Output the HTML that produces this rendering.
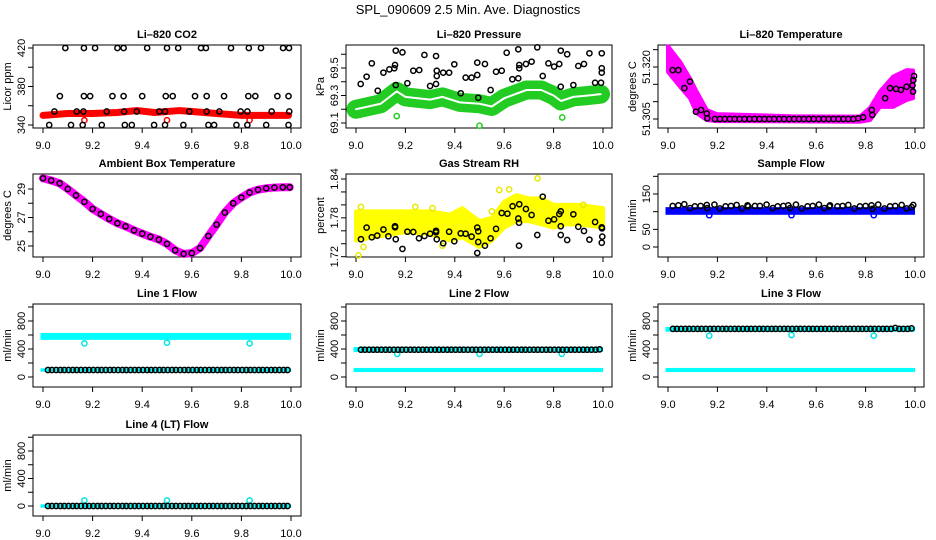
<!DOCTYPE html>
<html><head><meta charset="utf-8"><title>SPL_090609 Diagnostics</title>
<style>
html,body{margin:0;padding:0;background:#fff;}
svg{display:block;font-family:"Liberation Sans",Arial,sans-serif;}
</style></head>
<body>
<svg id="fig" width="936" height="540" viewBox="0 0 936 540" xmlns="http://www.w3.org/2000/svg">
<rect x="0" y="0" width="936" height="540" fill="#fff"/>
<text x="468" y="14" text-anchor="middle" font-size="13">SPL_090609  2.5 Min. Ave. Diagnostics</text>
</svg>
<script>
// ---------- data ----------
const xTicks = [9.0, 9.2, 9.4, 9.6, 9.8, 10.0];
const xTickLabels = ["9.0", "9.2", "9.4", "9.6", "9.8", "10.0"];
const tGrid = [9.02,9.036,9.053,9.07,9.086,9.103,9.12,9.136,9.153,9.17,9.186,9.203,9.22,9.236,9.253,9.27,9.286,9.303,9.32,9.336,9.353,9.37,9.386,9.403,9.42,9.436,9.453,9.47,9.486,9.503,9.52,9.536,9.553,9.57,9.586,9.603,9.62,9.636,9.653,9.67,9.686,9.703,9.72,9.736,9.753,9.77,9.786,9.803,9.82,9.836,9.853,9.87,9.886,9.903,9.92,9.936,9.953,9.97,9.986];
const outlierX = [9.167, 9.5, 9.833];

// CO2
const co2Ticks = [340, 360, 380, 400, 420];
const co2TickLabels = ["340", "", "380", "", "420"];
const co2RedX = [9.0,9.1,9.2,9.3,9.38,9.45,9.55,9.6,9.7,9.8,9.9,9.99];
const co2RedY = [350,352,352,353,355,353,355,354,352,350,350,350];
const co2RedOutY = [345, 345, 345];
const co2BlackX = [9.09,9.165,9.21,9.30,9.325,9.42,9.50,9.545,9.637,9.657,9.758,9.83,9.879,9.968,9.992,
  9.068,9.165,9.19,9.28,9.325,9.40,9.495,9.523,9.613,9.66,9.73,9.828,9.856,9.945,9.99,
  9.046,9.136,9.163,9.257,9.327,9.378,9.469,9.492,9.59,9.66,9.711,9.797,9.824,9.922,9.993,
  9.025,9.113,9.16,9.237,9.33,9.358,9.448,9.492,9.566,9.667,9.69,9.78,9.824,9.90,9.99];
const co2BlackY = [420,420,420,420,420,420,420,420,420,420,420,420,420,420,420,
  370,370,370,370,370,370,370,370,370,370,370,370,370,370,370,
  354,354,354,354,354,354,354,354,354,354,354,354,354,354,354,
  340,340,340,340,340,340,340,340,340,340,340,340,340,340,340];

// Pressure
const presTicks = [69.1, 69.2, 69.3, 69.4, 69.5, 69.6];
const presTickLabels = ["69.1", "", "69.3", "", "69.5", ""];
const presGreenX = [9.0,9.05,9.1,9.165,9.2,9.3,9.35,9.42,9.5,9.55,9.6,9.69,9.75,9.8,9.83,9.88,9.94,9.99];
const presGreenY = [69.2,69.22,69.24,69.33,69.29,69.27,69.29,69.25,69.24,69.22,69.28,69.34,69.34,69.3,69.26,69.29,69.3,69.31];
const presGreenOutX = [9.165, 9.5, 9.835];
const presGreenOutY = [69.15, 69.08, 69.14];
const presBlackX = [9.019,9.043,9.064,9.088,9.111,9.135,9.155,9.158,9.161,9.161,9.188,9.208,9.232,9.256,9.277,9.30,9.324,9.324,9.327,9.327,9.353,9.377,9.398,9.424,9.444,9.468,9.491,9.491,9.495,9.522,9.545,9.567,9.59,9.61,9.633,9.657,9.657,9.661,9.661,9.688,9.711,9.734,9.756,9.779,9.802,9.823,9.829,9.829,9.855,9.88,9.90,9.923,9.945,9.968,9.992,9.995,9.995,9.995];
const presBlackY = [69.384,69.437,69.534,69.335,69.466,69.49,69.498,69.522,69.376,69.626,69.614,69.389,69.48,69.485,69.595,69.369,69.384,69.587,69.48,69.442,69.466,69.466,69.527,69.316,69.43,69.43,69.449,69.539,69.284,69.529,69.34,69.473,69.48,69.611,69.418,69.636,69.425,69.498,69.522,69.529,69.546,69.65,69.442,69.534,69.51,69.529,69.626,69.364,69.60,69.376,69.515,69.529,69.607,69.393,69.393,69.607,69.498,69.466];

// Li-820 temperature
const tempTicks = [51.305, 51.310, 51.315, 51.320, 51.325];
const tempTickLabels = ["51.305", "", "", "51.320", ""];
const tempBandX = [9.0,9.049,9.089,9.116,9.157,9.197,9.5,9.777,9.818,9.858,9.911,9.966,9.992];
const tempBandUpper = [51.326,51.3215,51.3167,51.3129,51.3076,51.3064,51.3058,51.3057,51.3082,51.3129,51.3172,51.3191,51.319];
const tempBandLower = [51.3186,51.3143,51.311,51.3067,51.3047,51.3044,51.3043,51.3042,51.3047,51.3085,51.3085,51.3105,51.311];
const tempBlackX = [9.019,9.042,9.066,9.089,9.113,9.134,9.157,9.159,9.19,9.21,9.23,9.25,9.27,9.29,9.31,9.33,9.35,9.37,9.39,9.41,9.43,9.45,9.47,9.49,9.51,9.53,9.55,9.57,9.59,9.61,9.63,9.65,9.67,9.69,9.71,9.73,9.75,9.77,9.79,9.825,9.827,9.879,9.899,9.923,9.943,9.966,9.993,9.996,9.992,9.99];
const tempBlackY = [51.3191,51.3191,51.3139,51.3158,51.3071,51.3076,51.3066,51.3052,51.305,51.305,51.305,51.305,51.305,51.305,51.305,51.305,51.305,51.305,51.305,51.305,51.305,51.305,51.305,51.305,51.305,51.305,51.305,51.305,51.305,51.305,51.305,51.305,51.305,51.305,51.305,51.305,51.305,51.3052,51.3055,51.3076,51.3062,51.311,51.3139,51.3137,51.3134,51.3143,51.3162,51.3174,51.3129,51.3147];

// Ambient box temperature
const ambTicks = [25, 26, 27, 28, 29];
const ambTickLabels = ["25", "", "27", "", "29"];
const ambX = [9.0,9.033,9.067,9.1,9.133,9.167,9.2,9.233,9.267,9.3,9.333,9.367,9.4,9.433,9.467,9.5,9.533,9.567,9.6,9.633,9.667,9.7,9.733,9.767,9.8,9.833,9.867,9.9,9.933,9.967,9.995];
const ambY = [29.75,29.6,29.4,29.0,28.55,28.1,27.6,27.25,26.9,26.6,26.38,26.1,25.87,25.65,25.45,25.15,24.7,24.45,24.5,24.85,25.7,26.5,27.35,28.0,28.4,28.75,28.95,29.05,29.1,29.12,29.12];

// Gas stream RH
const rhTicks = [1.72, 1.74, 1.76, 1.78, 1.80, 1.82, 1.84];
const rhTickLabels = ["1.72", "", "", "1.78", "", "", "1.84"];
const rhBandX = [9.0,9.1,9.2,9.3,9.38,9.43,9.5,9.55,9.6,9.65,9.7,9.75,9.8,9.85,9.9,10.0];
const rhBandUpper = [1.79,1.79,1.79,1.79,1.785,1.795,1.775,1.78,1.805,1.815,1.81,1.81,1.80,1.80,1.80,1.795];
const rhBandLower = [1.745,1.752,1.758,1.755,1.745,1.75,1.735,1.745,1.765,1.775,1.775,1.77,1.765,1.77,1.77,1.765];
const rhYellowOutX = [9.01,9.02,9.24,9.31,9.58,9.62,9.735,9.35,9.92,9.03,9.55];
const rhYellowOutY = [1.722,1.797,1.797,1.795,1.823,1.824,1.841,1.737,1.80,1.735,1.79];
const rhBlackX = [9.020,9.043,9.064,9.086,9.111,9.131,9.158,9.161,9.158,9.188,9.208,9.232,9.255,9.277,9.30,9.324,9.327,9.324,9.353,9.377,9.398,9.424,9.444,9.468,9.491,9.491,9.495,9.495,9.522,9.545,9.567,9.59,9.613,9.634,9.657,9.66,9.661,9.66,9.688,9.711,9.734,9.756,9.779,9.802,9.823,9.829,9.829,9.829,9.855,9.88,9.90,9.923,9.945,9.968,9.995,9.997,9.995,9.996];
const rhBlackY = [1.747,1.765,1.750,1.7525,1.762,1.7515,1.767,1.747,1.7654,1.732,1.7586,1.7581,1.7484,1.752,1.7555,1.760,1.747,1.7577,1.7407,1.7586,1.7438,1.756,1.7555,1.751,1.765,1.7257,1.7592,1.7427,1.737,1.7484,1.763,1.7875,1.7864,1.798,1.779,1.737,1.801,1.7725,1.7937,1.7844,1.7535,1.8127,1.7756,1.7777,1.786,1.767,1.790,1.7535,1.7458,1.7855,1.7663,1.7597,1.7463,1.7736,1.7654,1.751,1.7416,1.7638];

// Sample flow
const sfTicks = [0, 50, 100, 150, 200];
const sfTickLabels = ["0", "50", "", "150", ""];
const sfBlueBand = [94, 110];
const sfBlueOutY = [90, 90, 90];
const sfBlackX = [9.019,9.042,9.066,9.089,9.109,9.132,9.157,9.159,9.188,9.21,9.233,9.255,9.278,9.3,9.322,9.325,9.352,9.372,9.399,9.424,9.444,9.467,9.487,9.494,9.518,9.541,9.565,9.586,9.611,9.633,9.653,9.656,9.686,9.707,9.73,9.754,9.777,9.8,9.824,9.828,9.851,9.876,9.899,9.92,9.946,9.966,9.986,9.993];
const sfBlackY = [116,118,121,110,115,116,119,110,120,109,115,116,119,109,118,115,116,116,120,110,115,116,118,110,120,109,115,116,120,110,115,118,115,116,119,109,115,116,118,108,120,109,115,116,119,109,113,119];

// Line flows (mL/min)
const flowTicks = [0, 200, 400, 600, 800, 1000];
const flowTickLabels = ["0", "", "400", "", "800", ""];
const line1CyanBand = [545, 615];
const line1CyanLow = [90, 110];
const line1OutY = [480, 490, 480];
const line1Black = [100,100,100,100,100,100,100,100,100,100,100,100,100,100,100,100,100,100,100,100,100,100,100,100,100,100,100,100,100,100,100,100,100,100,100,100,100,100,100,100,100,100,100,100,100,100,100,100,100,100,100,100,100,100,100,100,100,100,100];
const line2CyanBand = [370, 415];
const line2CyanLow = [85, 115];
const line2OutY = [330, 330, 330];
const line2Black = [390,390,390,390,390,390,390,390,390,390,390,390,390,390,390,390,390,390,390,390,390,390,390,390,390,390,390,390,390,390,390,390,390,390,390,390,390,390,390,390,390,390,390,390,390,390,390,390,390,390,390,390,390,390,390,390,390,390,395];
const line3CyanBand = [660, 700];
const line3CyanLow = [85, 115];
const line3OutY = [590, 600, 590];
const line3Black = [688,688,688,688,688,688,688,688,688,688,688,688,688,688,688,688,688,688,688,688,688,688,688,688,688,688,688,688,688,688,688,688,688,688,688,688,688,688,688,688,688,688,688,688,688,688,688,688,688,688,688,688,688,688,700,688,688,688,695];
const line4CyanBand = [-10, 10];
const line4OutY = [80, 80, 80];
const line4Black = [0,0,0,0,0,0,0,0,0,0,0,0,0,0,0,0,0,0,0,0,0,0,0,0,0,0,0,0,0,0,0,0,0,0,0,0,0,0,0,0,0,0,0,0,0,0,0,0,0,0,0,0,0,0,0,0,0,0,0];

// ---------- drawing ----------
const NS = "http://www.w3.org/2000/svg";
const svg = document.getElementById("fig");
const COLS = [[33,301,43,291],[346,612,356,603],[658,924,668,915]];
const ROWS = [[45,128],[174,257],[304,387],[435,516]];

function mk(parent, tag, attrs, name) {
  const el = document.createElementNS(NS, tag);
  for (const k in attrs) el.setAttribute(k, attrs[k]);
  
  
  parent.appendChild(el);
  return el;
}

function panel(col, row, id, title, ylab, v1, p1, v2, p2, ticks, labels) {
  const [bl, br, x9, x10] = COLS[col];
  const [bt, bb] = ROWS[row];
  const g = mk(svg, "g", {}, id + "-panel");
  const sx = x => x9 + (x - 9) * (x10 - x9);
  const sy = v => p1 + (v - v1) * (p2 - p1) / (v2 - v1);
  const t = mk(g, "text", {x: (bl + br) / 2, y: bt - 7, "text-anchor": "middle", "font-size": 11, "font-weight": "bold"}, id + "-title");
  t.textContent = title;
  mk(g, "rect", {x: bl, y: bt, width: br - bl, height: bb - bt, fill: "none", stroke: "#000", "stroke-width": 1}, id + "-plot-box");
  xTicks.forEach((xv, i) => {
    const px = sx(xv);
    mk(g, "line", {x1: px, y1: bb, x2: px, y2: bb + 5, stroke: "#000"}, id + "-x-tick");
    const tl = mk(g, "text", {x: px, y: bb + 21, "text-anchor": "middle", "font-size": 11}, id + "-x-tick-label");
    tl.textContent = xTickLabels[i];
  });
  ticks.forEach((v, i) => {
    const py = sy(v);
    mk(g, "line", {x1: bl - 5, y1: py, x2: bl, y2: py, stroke: "#000"}, id + "-y-tick");
    if (labels[i]) {
      const tl = mk(g, "text", {x: 0, y: 0, "text-anchor": "middle", "font-size": 11, transform: `translate(${bl - 8},${py}) rotate(-90)`}, id + "-y-tick-label");
      tl.textContent = labels[i];
    }
  });
  const yl = mk(g, "text", {x: 0, y: 0, "text-anchor": "middle", "font-size": 11, transform: `translate(${bl - 22},${(bt + bb) / 2}) rotate(-90)`}, id + "-y-axis-title");
  yl.textContent = ylab;
  const marks = mk(g, "g", {}, id + "-marks");
  return {g: marks, sx, sy, bl, br};
}

function pts(P, xs, ys, color, name) {
  xs.forEach((x, i) => {
    mk(P.g, "circle", {cx: P.sx(x), cy: P.sy(ys[i]), r: 2.6, fill: "none", stroke: color, "stroke-width": 1.5}, name);
  });
}
function band(P, xs, ys, color, w, name) {
  mk(P.g, "polyline", {points: xs.map((x, i) => P.sx(x) + "," + P.sy(ys[i])).join(" "), fill: "none", stroke: color, "stroke-width": w, "stroke-linejoin": "round", "stroke-linecap": "round"}, name);
}
function area(P, xs, up, lo, color, name) {
  const a = xs.map((x, i) => P.sx(x) + "," + P.sy(up[i]));
  const b = xs.map((x, i) => P.sx(x) + "," + P.sy(lo[i])).reverse();
  mk(P.g, "polygon", {points: a.concat(b).join(" "), fill: color, stroke: color, "stroke-width": 4, "stroke-linejoin": "round"}, name);
}
function rangeRect(P, x0, x1, lohi, color, name) {
  const y0 = P.sy(lohi[1]), y1 = P.sy(lohi[0]);
  mk(P.g, "rect", {x: P.sx(x0) - 2.5, y: Math.min(y0, y1) - 1, width: P.sx(x1) - P.sx(x0) + 5, height: Math.abs(y1 - y0) + 2, fill: color}, name);
}

// Panel 1: CO2
let P = panel(0, 0, "co2", "Li\u2013820 CO2", "Licor ppm", 340, 125, 420, 48, co2Ticks, co2TickLabels);
band(P, co2RedX, co2RedY, "#ff0000", 7, "co2-red-series");
pts(P, outlierX, co2RedOutY, "#ff0000", "co2-red-outlier");
pts(P, co2BlackX, co2BlackY, "#000", "co2-black-point");

// Panel 2: Pressure
P = panel(1, 0, "pressure", "Li\u2013820 Pressure", "kPa", 69.1, 123, 69.5, 68, presTicks, presTickLabels);
band(P, presGreenX, presGreenY, "#22cc22", 19, "pressure-green-series");
band(P, presGreenX, presGreenY, "#ffffff", 2, "pressure-green-center-gap");
pts(P, presGreenOutX, presGreenOutY, "#22cc22", "pressure-green-outlier");
pts(P, presBlackX, presBlackY, "#000", "pressure-black-point");

// Panel 3: Li-820 temperature
P = panel(2, 0, "li820-temp", "Li\u2013820 Temperature", "degrees C", 51.305, 119, 51.320, 67, tempTicks, tempTickLabels);
area(P, tempBandX, tempBandUpper, tempBandLower, "#ff00ff", "li820-temp-magenta-series");
pts(P, tempBlackX, tempBlackY, "#000", "li820-temp-black-point");

// Panel 4: Ambient box temperature
P = panel(0, 1, "ambient-temp", "Ambient Box Temperature", "degrees C", 29, 189, 25, 246, ambTicks, ambTickLabels);
band(P, ambX, ambY, "#ff00ff", 8, "ambient-temp-magenta-series");
pts(P, ambX, ambY, "#000", "ambient-temp-black-point");

// Panel 5: RH
P = panel(1, 1, "rh", "Gas Stream RH", "percent", 1.84, 179, 1.72, 256.7, rhTicks, rhTickLabels);
area(P, rhBandX, rhBandUpper, rhBandLower, "#ffff00", "rh-yellow-series");
pts(P, rhYellowOutX, rhYellowOutY, "#e8e800", "rh-yellow-outlier");
pts(P, rhBlackX, rhBlackY, "#000", "rh-black-point");

// Panel 6: Sample flow
P = panel(2, 1, "sample-flow", "Sample Flow", "ml/min", 150, 194, 0, 247, sfTicks, sfTickLabels);
rangeRect(P, 9.0, 9.99, sfBlueBand, "#0000ff", "sample-flow-blue-series");
pts(P, outlierX, sfBlueOutY, "#0000ff", "sample-flow-blue-outlier");
pts(P, sfBlackX, sfBlackY, "#000", "sample-flow-black-point");

// Panel 7: Line 1
P = panel(0, 2, "line1-flow", "Line 1 Flow", "ml/min", 0, 377, 800, 321, flowTicks, flowTickLabels);
rangeRect(P, 9.0, 9.99, line1CyanBand, "#00ffff", "line1-cyan-series");
rangeRect(P, 9.0, 9.99, line1CyanLow, "#00ffff", "line1-cyan-low-series");
pts(P, outlierX, line1OutY, "#00e5e5", "line1-cyan-outlier");
pts(P, tGrid, line1Black, "#000", "line1-black-point");

// Panel 8: Line 2
P = panel(1, 2, "line2-flow", "Line 2 Flow", "ml/min", 0, 377, 800, 321, flowTicks, flowTickLabels);
rangeRect(P, 9.0, 9.99, line2CyanBand, "#00ffff", "line2-cyan-series");
rangeRect(P, 9.0, 9.99, line2CyanLow, "#00ffff", "line2-cyan-low-series");
pts(P, outlierX, line2OutY, "#00e5e5", "line2-cyan-outlier");
pts(P, tGrid, line2Black, "#000", "line2-black-point");

// Panel 9: Line 3
P = panel(2, 2, "line3-flow", "Line 3 Flow", "ml/min", 0, 377, 800, 321, flowTicks, flowTickLabels);
rangeRect(P, 9.0, 9.99, line3CyanBand, "#00ffff", "line3-cyan-series");
rangeRect(P, 9.0, 9.99, line3CyanLow, "#00ffff", "line3-cyan-low-series");
pts(P, outlierX, line3OutY, "#00e5e5", "line3-cyan-outlier");
pts(P, tGrid, line3Black, "#000", "line3-black-point");

// Panel 10: Line 4
P = panel(0, 3, "line4-flow", "Line 4 (LT) Flow", "ml/min", 0, 506, 800, 451, flowTicks, flowTickLabels);
rangeRect(P, 9.0, 9.99, line4CyanBand, "#00ffff", "line4-cyan-series");
pts(P, outlierX, line4OutY, "#00e5e5", "line4-cyan-outlier");
pts(P, tGrid, line4Black, "#000", "line4-black-point");
</script>
</body></html>
